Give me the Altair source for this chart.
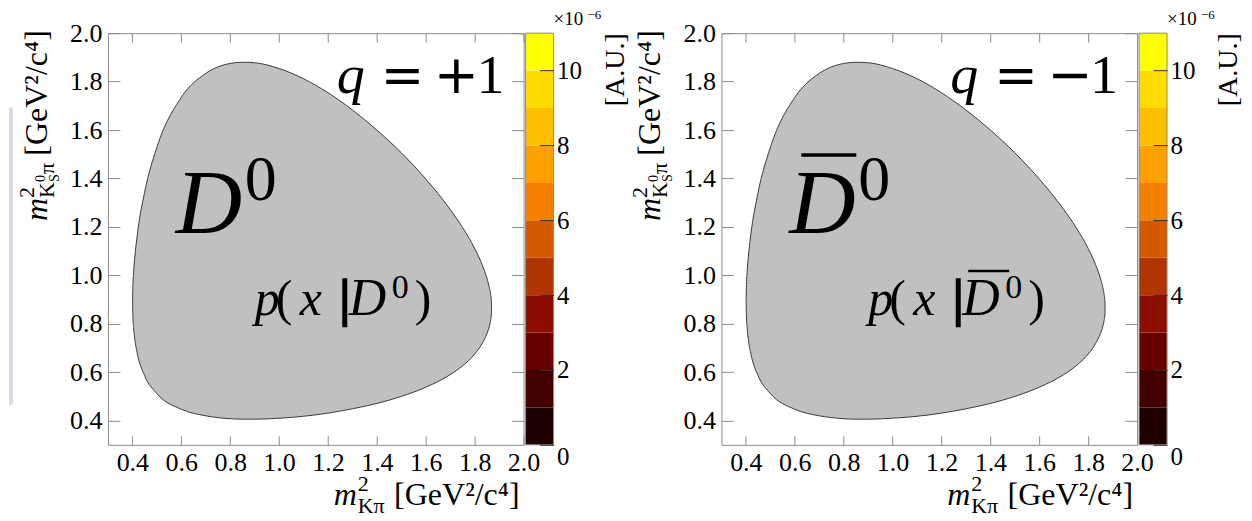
import altair as alt
import pandas as pd

# ---- values ----
# Dalitz-plot boundary: m^2(K pi) on x, lower / upper m^2(KS pi) on y
m2_kpi = [0.401, 0.402, 0.405, 0.41, 0.42, 0.45, 0.5, 0.6, 0.7, 0.8,
          0.85, 0.9, 1.0, 1.1, 1.2, 1.3, 1.4, 1.5, 1.6, 1.7,
          1.75, 1.8, 1.83, 1.85, 1.86, 1.865, 1.868, 1.8693]
m2_kspi_low = [0.891, 0.835, 0.784, 0.736, 0.678, 0.586, 0.512, 0.447, 0.420, 0.408,
               0.406, 0.406, 0.410, 0.418, 0.431, 0.449, 0.471, 0.500, 0.538, 0.590,
               0.626, 0.675, 0.718, 0.759, 0.790, 0.813, 0.836, 0.866]
m2_kspi_high = [0.891, 0.949, 1.011, 1.075, 1.166, 1.343, 1.528, 1.735, 1.834, 1.875,
                1.880, 1.878, 1.854, 1.812, 1.754, 1.683, 1.600, 1.506, 1.398, 1.272,
                1.198, 1.111, 1.045, 0.988, 0.949, 0.922, 0.896, 0.866]
axis_ticks = [0.4, 0.6, 0.8, 1.0, 1.2, 1.4, 1.6, 1.8, 2.0]
z_band_low = [0, 1, 2, 3, 4, 5, 6, 7, 8, 9, 10]
z_band_colors = ["#200000", "#420000", "#690000", "#8c0e00", "#b03500", "#d45a00",
                 "#f58000", "#ffa000", "#ffbf00", "#ffdc00", "#ffff00"]
z_ticks = [0, 2, 4, 6, 8, 10]
charges = ["+1", "\u22121"]
bar_flags = [False, True]

# ---- styling ----
W, H = 416, 412
SERIF = "Liberation Serif"
MATHOP = "DejaVu Sans"
GRAY = "#8c8c8c"
ONE = alt.Data(values=[{"k": 0}])

boundary = pd.DataFrame({"x": m2_kpi, "lo": m2_kspi_low, "hi": m2_kspi_high})
bands = pd.DataFrame({"lo": z_band_low, "hi": [v + 1 for v in z_band_low], "c": z_band_colors})


def T(s, x, y, size, font=SERIF, italic=False, align="left", baseline="alphabetic",
      angle=0, weight="normal", stroke_w=0):
    kw = dict(text=s, font=font, fontSize=size, align=align, baseline=baseline,
              color="black", fontStyle="italic" if italic else "normal", fontWeight=weight)
    if angle:
        kw["angle"] = angle
    if stroke_w:
        kw["stroke"] = "black"
        kw["strokeWidth"] = stroke_w
    return alt.Chart(ONE).mark_text(**kw).encode(x=alt.value(x), y=alt.value(y))


def overline(x1, x2, y, w):
    return alt.Chart(ONE).mark_rule(color="black", strokeWidth=w).encode(
        x=alt.value(x1), x2=alt.value(x2), y=alt.value(y))


common = dict(values=axis_ticks, domain=False, grid=False, tickColor=GRAY, tickWidth=1,
              labelFont=SERIF, labelFontSize=26, labelColor="black", labelFlush=False,
              labelOverlap=False, title=None, format=".1f", zindex=1)


def panel(q, bar):
    xs = alt.Scale(domain=[0.3, 2.0], nice=False, zero=False)
    ys = alt.Scale(domain=[0.3, 2.0], nice=False, zero=False)
    zs = alt.Scale(domain=[0, 11], nice=False, zero=False)

    area = alt.Chart(boundary).mark_area(
        interpolate="monotone", fill="#c0c0c0", stroke="#3a3a3a", strokeWidth=1
    ).encode(
        x=alt.X("x:Q", scale=xs, axis=alt.Axis(orient="bottom", offset=-9, tickSize=9,
                                                labelPadding=5, **common)),
        y=alt.Y("lo:Q", scale=ys, axis=alt.Axis(orient="left", offset=-12, tickSize=12,
                                                 labelPadding=6, **common)),
        y2="hi:Q",
    )
    frame = alt.Chart(boundary).mark_line(strokeOpacity=0).encode(
        x=alt.X("x:Q", scale=xs, axis=alt.Axis(orient="top", offset=-9, tickSize=9,
                                                labels=False, **common)),
        y=alt.Y("lo:Q", scale=ys, axis=alt.Axis(orient="right", offset=-12, tickSize=12,
                                                 labels=False, **common)),
    )
    bar_axis = alt.Axis(orient="right", offset=16, tickSize=14, values=z_ticks,
                        domain=False, grid=False, tickColor="#333333", tickWidth=1,
                        labelFont=SERIF, labelFontSize=25, labelColor="black",
                        labelPadding=3, labelFlush=False, labelOverlap=False,
                        title=None, zindex=1,
                        labelBaseline={"condition": {"test": "datum.value == 0",
                                                     "value": "top"},
                                       "value": "middle"})
    cb = alt.layer(
        alt.Chart(bands).mark_rect().encode(
            y=alt.Y("lo:Q", scale=zs, axis=bar_axis), y2="hi:Q",
            x=alt.value(418), x2=alt.value(446),
            color=alt.Color("c:N", scale=None)),
        alt.Chart(ONE).mark_rect(fillOpacity=0, stroke=GRAY, strokeWidth=1).encode(
            x=alt.value(418), x2=alt.value(446), y=alt.value(0), y2=alt.value(H)),
    )

    texts = [
        # colour-bar exponent and unit
        T("\u00d710", 446, -8, 19),
        T("\u22126", 480, -24, 13, baseline="top"),
        T("[A.U.]", 516, 0, 28, align="right", angle=270),
        # x title
        T("m", 226, 472, 32, italic=True),
        T("2", 250, 458, 22),
        T("K\u03c0", 250, 480, 22),
        T("[GeV\u00b2/c\u2074]", 412, 472, 32, align="right"),
        # y title (rotated)
        T("[GeV\u00b2/c\u2074]", -61, -3, 32, align="right", angle=270),
        T("m", -61, 188, 32, italic=True, angle=270),
        T("2", -74, 165, 22, angle=270),
        T("K", -54, 165, 22, angle=270),
        T("0", -63, 149, 14, angle=270),
        T("S", -49, 149, 14, angle=270),
        T("\u03c0", -54, 141, 22, angle=270),
        # annotations
        T("q", 229, 60, 56, italic=True),
        T("=", 273, 60, 52, font=MATHOP),
        T(q[0], 326, 60, 54, font=MATHOP),
        T("1", 369, 60, 56),
        T("D", 68, 200, 92, italic=True),
        T("0", 137, 167, 64),
        T("p", 147, 282, 50, italic=True),
        T("(", 168, 282, 50),
        T("x", 192, 282, 50, italic=True),
        T("|", 232, 282, 50, stroke_w=2.5),
        T("D", 241, 282, 52, italic=True),
        T("0", 284, 265, 34),
        T(")", 307, 282, 50),
    ]
    if bar:
        texts += [overline(80, 135, 122, 3.5), overline(247, 288, 238, 2.5)]
    else:
        texts += [alt.Chart(ONE).mark_rect(
            color="#d6dce5", cornerRadiusTopRight=4, cornerRadiusBottomRight=4
        ).encode(x=alt.value(-99), x2=alt.value(-95), y=alt.value(74), y2=alt.value(372))]

    return alt.layer(area, frame, cb, *texts).resolve_scale(
        x="independent", y="independent").properties(width=W, height=H)


chart = alt.hconcat(
    *[panel(q, b) for q, b in zip(charges, bar_flags)],
    spacing=198, bounds="flush", padding=0,
).configure_view(stroke=GRAY, strokeWidth=1)

chart.save("out.html", embed_options={"renderer": "svg", "actions": False})
